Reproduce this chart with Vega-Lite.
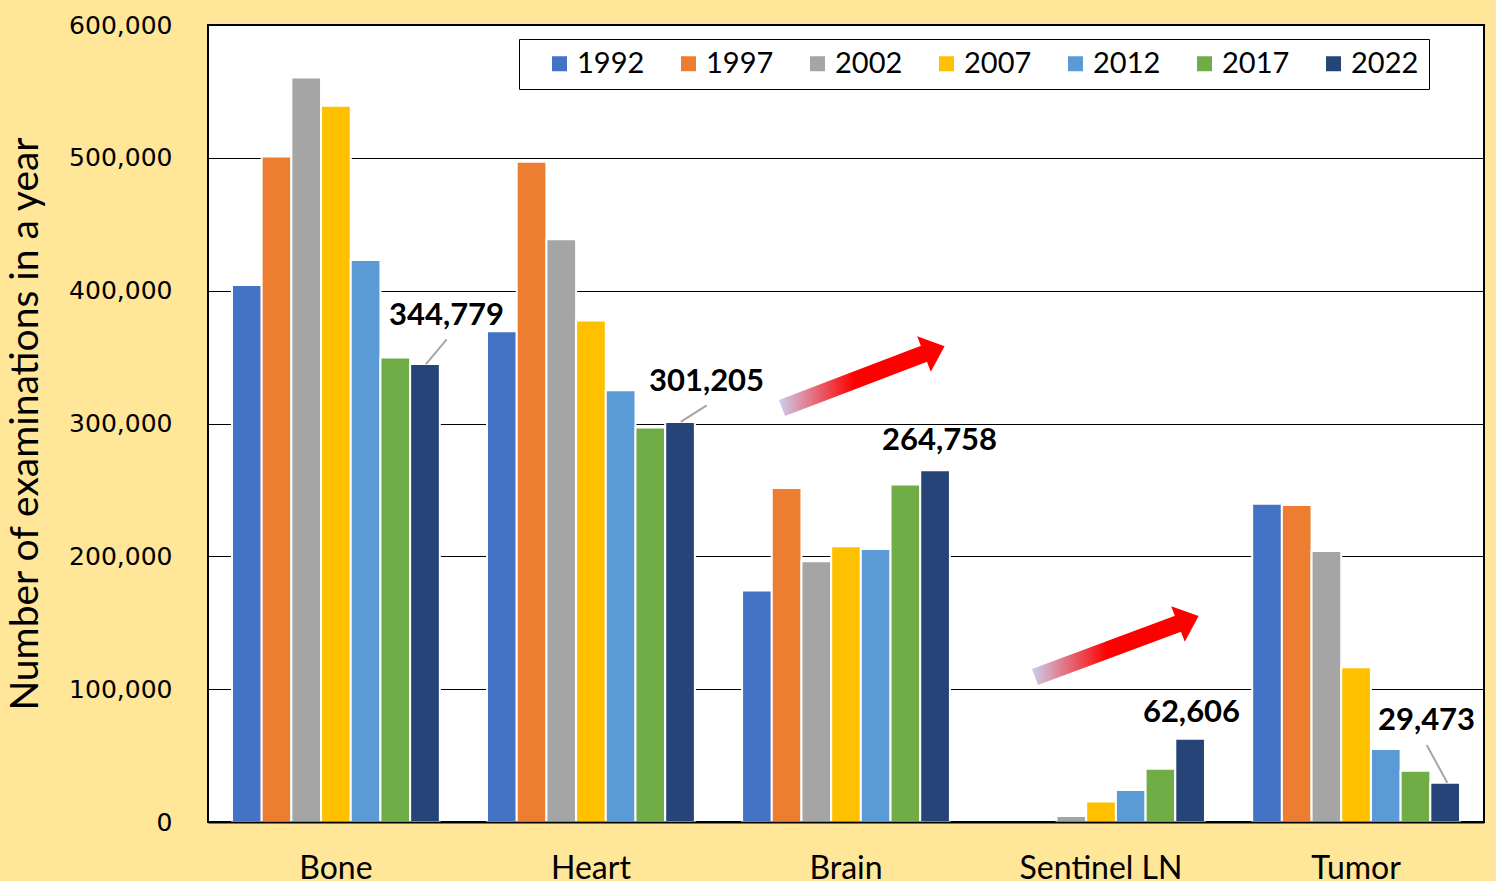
{
  "$schema": "https://vega.github.io/schema/vega-lite/v6.json",
  "width": 1276,
  "height": 797,
  "autosize": "none",
  "padding": {"left": 208, "top": 25, "right": 12, "bottom": 59},
  "background": "#FFE699",
  "config": {
    "view": {"fill": "white", "stroke": "black", "strokeWidth": 2}
  },
  "datasets": {
    "bars": [
      {"organ": "Bone", "year": "1992", "count": 404300},
      {"organ": "Bone", "year": "1997", "count": 501000},
      {"organ": "Bone", "year": "2002", "count": 560500},
      {"organ": "Bone", "year": "2007", "count": 539300},
      {"organ": "Bone", "year": "2012", "count": 423000},
      {"organ": "Bone", "year": "2017", "count": 349700},
      {"organ": "Bone", "year": "2022", "count": 344779},
      {"organ": "Heart", "year": "1992", "count": 369500},
      {"organ": "Heart", "year": "1997", "count": 497000},
      {"organ": "Heart", "year": "2002", "count": 438800},
      {"organ": "Heart", "year": "2007", "count": 377500},
      {"organ": "Heart", "year": "2012", "count": 325000},
      {"organ": "Heart", "year": "2017", "count": 297000},
      {"organ": "Heart", "year": "2022", "count": 301205},
      {"organ": "Brain", "year": "1992", "count": 174300},
      {"organ": "Brain", "year": "1997", "count": 251500},
      {"organ": "Brain", "year": "2002", "count": 196300},
      {"organ": "Brain", "year": "2007", "count": 207500},
      {"organ": "Brain", "year": "2012", "count": 205500},
      {"organ": "Brain", "year": "2017", "count": 254000},
      {"organ": "Brain", "year": "2022", "count": 264758},
      {"organ": "Sentinel LN", "year": "2002", "count": 4500},
      {"organ": "Sentinel LN", "year": "2007", "count": 15500},
      {"organ": "Sentinel LN", "year": "2012", "count": 24000},
      {"organ": "Sentinel LN", "year": "2017", "count": 40000},
      {"organ": "Sentinel LN", "year": "2022", "count": 62606},
      {"organ": "Tumor", "year": "1992", "count": 239500},
      {"organ": "Tumor", "year": "1997", "count": 238700},
      {"organ": "Tumor", "year": "2002", "count": 204000},
      {"organ": "Tumor", "year": "2007", "count": 116500},
      {"organ": "Tumor", "year": "2012", "count": 55000},
      {"organ": "Tumor", "year": "2017", "count": 38500},
      {"organ": "Tumor", "year": "2022", "count": 29473}
    ],
    "labels": [
      {"value": 344779, "x": 0.9346, "y": 380900},
      {"value": 301205, "x": 1.9534, "y": 331600},
      {"value": 264758, "x": 2.8664, "y": 287200},
      {"value": 62606, "x": 3.8538, "y": 82400},
      {"value": 29473, "x": 4.7747, "y": 76400}
    ],
    "leaders": [
      {"x1": 0.8542, "y1": 344779, "x2": 0.9353, "y2": 363400},
      {"x1": 1.8523, "y1": 301205, "x2": 1.9542, "y2": 313700},
      {"x1": 4.7755, "y1": 58000, "x2": 4.8562, "y2": 29473}
    ],
    "shafts": [
      {"x1": 2.2492, "y1": 311700, "x2": 2.8135, "y2": 353100},
      {"x1": 3.2406, "y1": 109200, "x2": 3.8088, "y2": 149800}
    ],
    "heads": [
      {"x": 2.8056, "y": 352300},
      {"x": 3.8009, "y": 149100}
    ]
  },
  "layer": [
    {
      "data": {"name": "bars"},
      "mark": {"type": "bar", "stroke": "white", "strokeWidth": 2},
      "encoding": {
        "x": {
          "field": "organ", "type": "nominal",
          "sort": ["Bone", "Heart", "Brain", "Sentinel LN", "Tumor"],
          "scale": {"paddingInner": 0.185, "paddingOuter": 0.094},
          "axis": {"title": null, "labelAngle": 0, "labelFont": "Lato", "labelFontSize": 32, "labelColor": "black", "labelPadding": 31, "ticks": false, "domain": true, "domainColor": "black", "domainWidth": 2, "zindex": 1, "grid": false}
        },
        "xOffset": {"field": "year", "type": "nominal", "sort": ["1992", "1997", "2002", "2007", "2012", "2017", "2022"], "scale": {"paddingInner": 0, "paddingOuter": 0}},
        "y": {
          "field": "count", "type": "quantitative",
          "scale": {"domain": [0, 600000], "nice": false},
          "axis": {"title": "Number of examinations in a year", "values": [0, 100000, 200000, 300000, 400000, 500000, 600000], "format": ",d", "labelFont": "DejaVu Sans", "labelFontSize": 25, "labelColor": "black", "labelPadding": 36, "ticks": false, "domain": false, "grid": true, "gridColor": "black", "gridWidth": 1, "titleFont": "Lato", "titleFontSize": 39, "titleFontWeight": "normal", "titleColor": "black", "titleX": -171, "titleY": 398.5, "titleAngle": -90, "titleBaseline": "alphabetic", "titleAlign": "center"}
        },
        "color": {
          "field": "year", "type": "nominal",
          "scale": {"domain": ["1992", "1997", "2002", "2007", "2012", "2017", "2022"], "range": ["#4472C4", "#ED7D31", "#A5A5A5", "#FFC000", "#5B9BD5", "#70AD47", "#264478"]},
          "legend": {"title": null, "orient": "none", "legendX": 311, "legendY": 14, "direction": "horizontal", "columns": 7, "symbolType": "square", "symbolSize": 225, "symbolStrokeWidth": 0, "labelFont": "Lato", "labelFontSize": 29, "labelColor": "black", "labelOffset": 3, "columnPadding": 13, "padding": 10, "strokeColor": "black", "fillColor": "white", "symbolOffset": 16, "labelLimit": 0, "encode": {"legend": {"update": {"strokeWidth": {"value": 2}}}}}
        }
      }
    },
    {
      "data": {"name": "leaders"},
      "mark": {"type": "rule", "color": "#A6A6A6", "strokeWidth": 2},
      "encoding": {
        "x": {"field": "x1", "type": "quantitative", "scale": {"domain": [0, 5]}, "axis": null},
        "x2": {"field": "x2"},
        "y": {"field": "y1", "type": "quantitative", "scale": {"domain": [0, 600000], "nice": false}},
        "y2": {"field": "y2"}
      }
    },
    {
      "data": {"name": "shafts"},
      "mark": {"type": "rule", "strokeWidth": 17, "strokeCap": "butt", "color": {"gradient": "linear", "x1": 0, "y1": 0, "x2": 1, "y2": 0, "stops": [{"offset": 0, "color": "#CEC6E2"}, {"offset": 0.5, "color": "#FF0000"}, {"offset": 1, "color": "#FF0000"}]}},
      "encoding": {
        "x": {"field": "x1", "type": "quantitative", "scale": {"domain": [0, 5]}, "axis": null},
        "x2": {"field": "x2"},
        "y": {"field": "y1", "type": "quantitative", "scale": {"domain": [0, 600000], "nice": false}},
        "y2": {"field": "y2"}
      }
    },
    {
      "data": {"name": "heads"},
      "mark": {"type": "point", "filled": true, "color": "#FF0000", "opacity": 1, "strokeWidth": 0, "shape": "M 0 -1 L 1.16 0 L 0 1 Z", "size": 1444, "angle": -21},
      "encoding": {
        "x": {"field": "x", "type": "quantitative", "scale": {"domain": [0, 5]}, "axis": null},
        "y": {"field": "y", "type": "quantitative", "scale": {"domain": [0, 600000], "nice": false}}
      }
    },
    {
      "data": {"name": "labels"},
      "mark": {"type": "text", "font": "Lato", "fontSize": 31, "fontWeight": "bold", "color": "black", "align": "center", "baseline": "middle"},
      "encoding": {
        "x": {"field": "x", "type": "quantitative", "scale": {"domain": [0, 5]}, "axis": null},
        "y": {"field": "y", "type": "quantitative", "scale": {"domain": [0, 600000], "nice": false}},
        "text": {"field": "value", "type": "quantitative", "format": ","}
      }
    }
  ],
  "resolve": {"scale": {"x": "independent"}}
}
